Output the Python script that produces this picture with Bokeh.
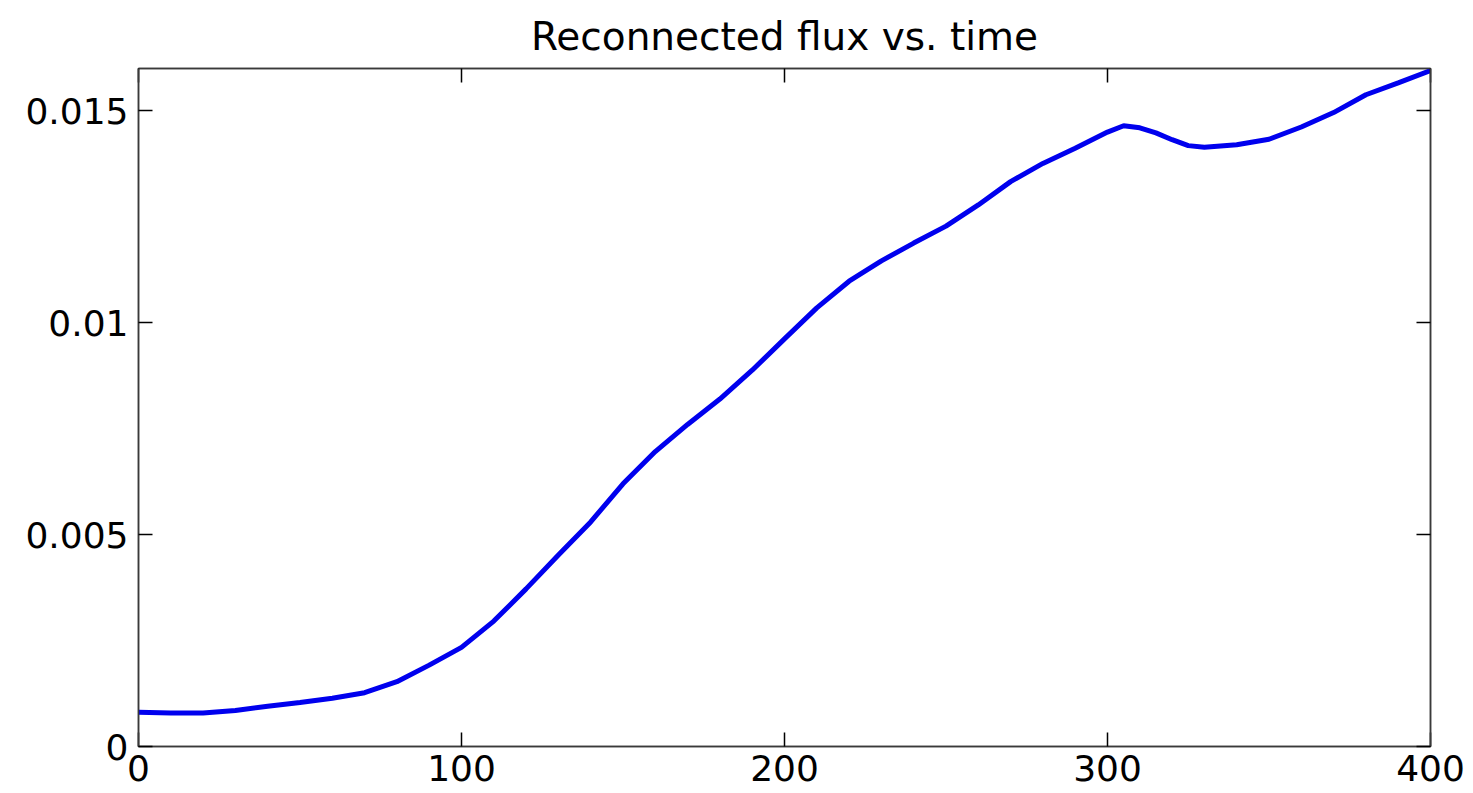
from bokeh.plotting import figure
from bokeh.models import LinearAxis, FixedTicker, Range1d
from bokeh.embed import file_html
from bokeh.resources import INLINE

# Reconnected flux sampled over the simulation time
time = [0, 10, 20, 30, 40, 50, 60, 70, 80, 90,
        100, 110, 120, 130, 140, 150, 160, 170, 180, 190,
        200, 210, 220, 230, 240, 250, 260, 270, 280, 290,
        300, 305, 310, 315, 320, 325, 330, 340, 350, 360,
        370, 380, 390, 400]
flux = [0.00081, 0.00079, 0.00079, 0.00085, 0.00095, 0.00104, 0.00114, 0.00127, 0.00153, 0.00192,
        0.00234, 0.00296, 0.00372, 0.00452, 0.00530, 0.00620, 0.00696, 0.00760, 0.00820, 0.00888,
        0.00962, 0.01035, 0.01098, 0.01146, 0.01188, 0.01228, 0.01278, 0.01333, 0.01376, 0.01412,
        0.01450, 0.01465, 0.01460, 0.01448, 0.01432, 0.01418, 0.01414, 0.01420, 0.01433, 0.01462,
        0.01496, 0.01538, 0.01566, 0.01595]

x_ticks = [0, 100, 200, 300, 400]
x_tick_labels = ["0", "100", "200", "300", "400"]
y_ticks = [0, 0.005, 0.01, 0.015]
y_tick_labels = ["0", "0.005", "0.01", "0.015"]

FONT = "DejaVu Sans"
AXIS_COLOR = "#3a3a3a"

p = figure(width=1473, height=793,
           x_range=Range1d(0, 400), y_range=Range1d(0, 0.016),
           output_backend="svg", toolbar_location=None,
           min_border_left=138, min_border_right=43,
           min_border_top=68, min_border_bottom=47,
           background_fill_color="white", border_fill_color="white")

p.title.text = "Reconnected flux vs. time"
p.title.align = "center"
p.title.text_font = FONT
p.title.text_font_size = "39px"
p.title.text_font_style = "normal"
p.title.text_color = "black"
p.title.standoff = 20

p.xgrid.visible = False
p.ygrid.visible = False
p.outline_line_color = AXIS_COLOR
p.outline_line_width = 1.5


def style_axis(ax, ticks, labels=None):
    ax.ticker = FixedTicker(ticks=ticks)
    ax.major_tick_in = 14
    ax.major_tick_out = 0
    ax.minor_tick_in = 0
    ax.minor_tick_out = 0
    ax.major_tick_line_color = "black"
    ax.major_tick_line_width = 1.5
    ax.axis_line_color = AXIS_COLOR
    ax.axis_line_width = 1.5
    if labels is None:
        # box edge: tick marks only
        ax.major_label_overrides = {t: "" for t in ticks}
        ax.major_label_standoff = 0
    else:
        ax.major_label_overrides = {t: s for t, s in zip(ticks, labels)}
        ax.major_label_text_font = FONT
        ax.major_label_text_font_size = "36px"
        ax.major_label_text_color = "black"


style_axis(p.xaxis[0], x_ticks, x_tick_labels)
p.xaxis[0].major_label_standoff = 8
style_axis(p.yaxis[0], y_ticks, y_tick_labels)
p.yaxis[0].major_label_standoff = 10

top_axis = LinearAxis()
style_axis(top_axis, x_ticks)
p.add_layout(top_axis, "above")
right_axis = LinearAxis()
style_axis(right_axis, y_ticks)
p.add_layout(right_axis, "right")

p.line(time, flux, line_color="#0000ee", line_width=5)

open("out.html", "w").write(file_html(p, INLINE))
